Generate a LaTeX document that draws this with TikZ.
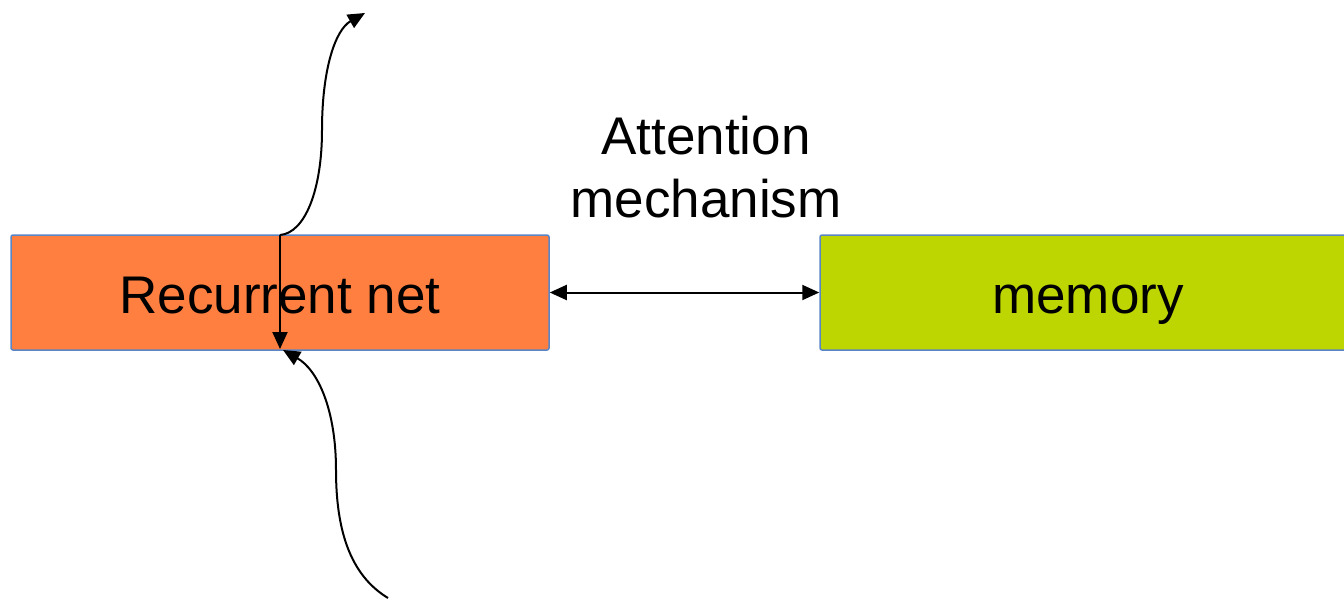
\documentclass[tikz,border=0pt]{standalone}
\usepackage{fontspec}
\setmainfont{Liberation Sans}
\usetikzlibrary{arrows.meta}
\definecolor{boxorange}{HTML}{FF7F41}
\definecolor{boxgreen}{HTML}{BDD500}
\definecolor{boxline}{HTML}{5B86C5}
\begin{document}
\begin{tikzpicture}[x=1pt,y=-1pt,
  box/.style={draw=boxline,line width=1.5pt,rounded corners=2pt,minimum height=115pt,inner sep=0pt,
    text height=41pt,text depth=0pt,font=\fontsize{53}{63}\selectfont},
  conn/.style={line width=2pt,-{Triangle[length=17pt,width=15pt]}},
  dconn/.style={line width=2pt,{Triangle[length=17pt,width=15pt]}-{Triangle[length=17pt,width=15pt]}}]
\useasboundingbox (0,0) rectangle (1344,600);
\clip (0,0) rectangle (1344,600);
\node[box,fill=boxorange,minimum width=538pt] (rnn) at (280,292.5) {Recurrent net};
\node[box,fill=boxgreen,minimum width=536pt] (mem) at (1088,292.5) {memory};
\node[font=\fontsize{53}{63}\selectfont,align=center] (att) at (706,167) {Attention\\mechanism};
\coordinate (top) at (280,235);
\coordinate (bot) at (280,349);
\coordinate (outtip) at (365,13);
\coordinate (instart) at (388,598);
\coordinate (intip) at (283,350);
\draw[conn] (top) .. controls (305,233) and (322,190) .. (322,130)
  .. controls (322,70) and (335,30) .. (outtip);
\draw[conn] (top) -- (bot);
\draw[conn] (instart) .. controls (350,575) and (336,530) .. (336,470)
  .. controls (336,410) and (318,370) .. (intip);
\draw[dconn] (rnn.east) -- (mem.west);
\end{tikzpicture}
\end{document}
